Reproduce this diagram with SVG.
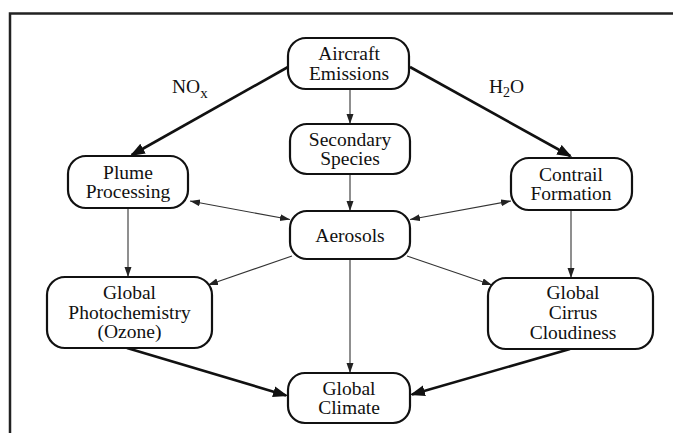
<svg xmlns="http://www.w3.org/2000/svg" width="673" height="433" viewBox="0 0 673 433">
<style>
.box{fill:#fff;stroke:#111;stroke-width:2.2}
.t{font-family:"Liberation Serif","Times New Roman",serif;font-size:19.5px;fill:#111;text-anchor:middle}
.lbl{font-family:"Liberation Serif","Times New Roman",serif;font-size:19.5px;fill:#111}
.thick{stroke:#111;stroke-width:2.6;fill:none;marker-end:url(#ah)}
.thin{stroke:#333;stroke-width:1.1;fill:none;marker-end:url(#as)}
.both{stroke:#333;stroke-width:1.1;fill:none;marker-start:url(#as);marker-end:url(#as)}
</style>
<defs>
<marker id="ah" markerUnits="userSpaceOnUse" markerWidth="16" markerHeight="12" refX="13" refY="5.5" orient="auto"><path d="M0,0 L15,5.5 L0,11 z" fill="#111"/></marker>
<marker id="as" markerUnits="userSpaceOnUse" markerWidth="11" markerHeight="8" refX="10" refY="3.5" orient="auto-start-reverse"><path d="M0,0 L10,3.5 L0,7 z" fill="#222"/></marker>
</defs>
<rect width="673" height="433" fill="#fff"/>
<path d="M10,433 L10,13.5 L673,13.5" fill="none" stroke="#222" stroke-width="2.5"/>
<g id="connectors">
<line class="thick" x1="288" y1="67" x2="131.7" y2="155"/>
<line class="thick" x1="410" y1="67" x2="570.3" y2="156"/>
<line class="thick" x1="127" y1="348" x2="286.1" y2="395.4"/>
<line class="thick" x1="570" y1="349" x2="411.9" y2="394.4"/>
<line class="thin" x1="350" y1="89" x2="350" y2="124"/>
<line class="thin" x1="350" y1="174" x2="350" y2="211"/>
<line class="thin" x1="128" y1="208" x2="128" y2="277"/>
<line class="thin" x1="571" y1="210" x2="571" y2="278"/>
<line class="both" x1="190" y1="201" x2="290" y2="219.5"/>
<line class="both" x1="410" y1="219.5" x2="511" y2="201"/>
<line class="thin" x1="292" y1="256" x2="208" y2="285"/>
<line class="thin" x1="407" y1="256" x2="492" y2="285"/>
<line class="thin" x1="350" y1="259" x2="350" y2="373"/>
</g>
<g id="label-nox"><text class="lbl" x="172" y="93">NO<tspan font-size="15px" dy="5">x</tspan></text></g>
<g id="label-h2o"><text class="lbl" x="489" y="93">H<tspan font-size="14px" dy="4">2</tspan><tspan dy="-4">O</tspan></text></g>
<g id="aircraft-emissions"><rect class="box" x="288" y="38" width="121" height="51" rx="18"/><text class="t" x="349" y="60">Aircraft</text><text class="t" x="349" y="79.5">Emissions</text></g>
<g id="secondary-species"><rect class="box" x="290" y="124" width="120" height="50" rx="17"/><text class="t" x="350" y="146">Secondary</text><text class="t" x="350" y="165">Species</text></g>
<g id="plume-processing"><rect class="box" x="68" y="156" width="120" height="52" rx="18"/><text class="t" x="128" y="179">Plume</text><text class="t" x="128" y="198">Processing</text></g>
<g id="contrail-formation"><rect class="box" x="511" y="158" width="121" height="52" rx="18"/><text class="t" x="571" y="181">Contrail</text><text class="t" x="571" y="200">Formation</text></g>
<g id="aerosols"><rect class="box" x="290" y="211" width="120" height="48" rx="17"/><text class="t" x="350" y="241.5">Aerosols</text></g>
<g id="global-photochemistry"><rect class="box" x="47" y="277" width="165" height="71" rx="18"/><text class="t" x="129.5" y="298.5">Global</text><text class="t" x="129.5" y="318.5">Photochemistry</text><text class="t" x="129.5" y="338">(Ozone)</text></g>
<g id="global-cirrus-cloudiness"><rect class="box" x="488" y="278" width="165" height="71" rx="18"/><text class="t" x="573" y="298.5">Global</text><text class="t" x="573" y="318.5">Cirrus</text><text class="t" x="573" y="338.5">Cloudiness</text></g>
<g id="global-climate"><rect class="box" x="288" y="373" width="122" height="50" rx="17"/><text class="t" x="349" y="395">Global</text><text class="t" x="349" y="414">Climate</text></g>
</svg>
